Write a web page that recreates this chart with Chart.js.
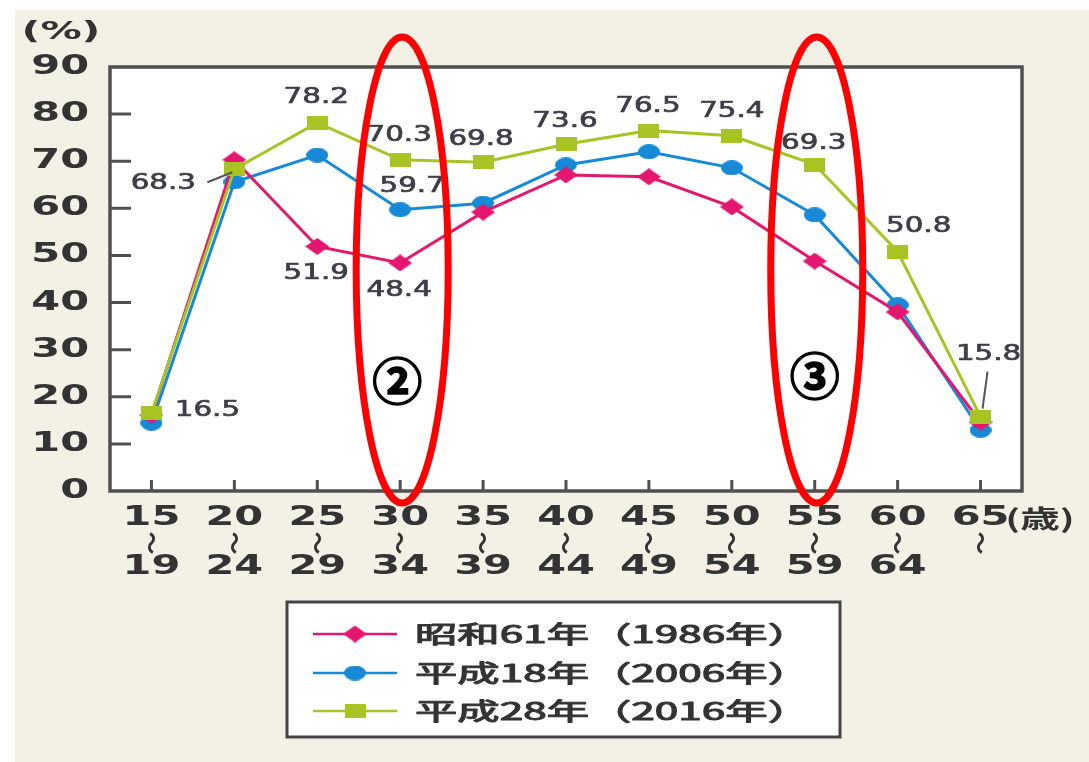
<!DOCTYPE html>
<html>
<head>
<meta charset="utf-8">
<script src="https://cdn.jsdelivr.net/npm/chart.js@4.4.1/dist/chart.umd.min.js"></script>
<style>
html, body { margin: 0; padding: 0; background: #fff; }
#wrap { width: 1089px; height: 762px; position: relative; }
</style>
</head>
<body>
<div id="wrap"><canvas id="chart"></canvas></div>
<script>
// 年齢階級 (上段 / 下段)
var ageFrom = ['15', '20', '25', '30', '35', '40', '45', '50', '55', '60', '65'];
var ageTo = ['19', '24', '29', '34', '39', '44', '49', '54', '59', '64', ''];
var categories = ageFrom.map(function (a, i) { return a + '～' + ageTo[i]; });

// 労働力率 (%)
var showa61 = [16.1, 70.3, 51.9, 48.4, 59.2, 67.1, 66.7, 60.3, 48.8, 38.0, 14.6];
var heisei18 = [14.4, 65.6, 71.3, 59.7, 61.1, 69.2, 72.0, 68.6, 58.6, 39.5, 12.9];
var heisei28 = [16.5, 68.3, 78.2, 70.3, 69.8, 73.6, 76.5, 75.4, 69.3, 50.8, 15.8];

var seriesNames = ['昭和61年（1986年）', '平成18年（2006年）', '平成28年（2016年）'];
var yTicks = [0, 10, 20, 30, 40, 50, 60, 70, 80, 90];

var PINK = '#e3176f', BLUE = '#168ad6', GREEN = '#a8c424';
var BEIGE = '#f3f0e5', INK = '#333333';

function marker(shape, color, w, h) {
  var c = document.createElement('canvas');
  c.width = w; c.height = h;
  var g = c.getContext('2d');
  g.fillStyle = color;
  g.beginPath();
  if (shape == 'diamond') {
    g.moveTo(w / 2, 0); g.lineTo(w, h / 2); g.lineTo(w / 2, h); g.lineTo(0, h / 2); g.closePath();
  } else if (shape == 'ellipse') {
    g.ellipse(w / 2, h / 2, w / 2, h / 2, 0, 0, Math.PI * 2);
  } else {
    g.rect(0, 0, w, h);
  }
  g.fill();
  return c;
}

var mPink = marker('diamond', PINK, 24, 17);
var mBlue = marker('ellipse', BLUE, 22, 15);
var mGreen = marker('rect', GREEN, 21, 14);

// which values get a number, and where it sits relative to the point
var labelSpots = [
  { ds: 2, i: 0, dx: 56, dy: -3 },
  { ds: 2, i: 1, dx: -71, dy: 14, lead: [-27, 13, -2, 3] },
  { ds: 2, i: 2, dx: -1, dy: -25 },
  { ds: 2, i: 3, dx: -1, dy: -24 },
  { ds: 2, i: 4, dx: -2, dy: -23 },
  { ds: 2, i: 5, dx: -1, dy: -23 },
  { ds: 2, i: 6, dx: -1, dy: -24 },
  { ds: 2, i: 7, dx: 0, dy: -24 },
  { ds: 2, i: 8, dx: -1, dy: -21 },
  { ds: 2, i: 9, dx: 21, dy: -25 },
  { ds: 2, i: 10, dx: 8, dy: -62, lead: [7, -45, 2, -8] },
  { ds: 1, i: 3, dx: 12, dy: -23 },
  { ds: 0, i: 2, dx: -1, dy: 27 },
  { ds: 0, i: 3, dx: -1, dy: 28 }
];

function inkWidth(ctx, font, s) {
  ctx.font = font;
  var m = ctx.measureText(s);
  return m.actualBoundingBoxLeft + m.actualBoundingBoxRight;
}

function wideText(ctx, s, x, y, font, sx, align, color, thick) {
  ctx.save();
  ctx.font = font;
  ctx.fillStyle = color || INK;
  ctx.textAlign = align || 'center';
  ctx.textBaseline = 'middle';
  ctx.translate(x, y);
  ctx.scale(sx, 1);
  ctx.fillText(s, 0, 0);
  if (thick) {
    ctx.strokeStyle = color || INK;
    ctx.lineWidth = thick;
    ctx.lineJoin = 'round';
    ctx.strokeText(s, 0, 0);
  }
  ctx.restore();
}

var TICK_FONT = 'bold 27px "DejaVu Sans"';
var DATA_FONT = '21px "DejaVu Sans"';
var LEG_FONT = '24px "Noto Sans CJK JP"';

var deco = {
  id: 'deco',
  beforeDraw: function (chart) {
    var c = chart.ctx, a = chart.chartArea;
    c.save();
    c.fillStyle = '#fff';
    c.fillRect(0, 0, chart.width, chart.height);
    c.fillStyle = BEIGE;
    c.fillRect(15, 10, chart.width - 15, chart.height - 10);
    c.fillStyle = '#fff';
    c.fillRect(a.left, a.top, a.right - a.left, a.bottom - a.top);
    c.restore();
  },
  beforeDatasetsDraw: function (chart) {
    var c = chart.ctx, a = chart.chartArea, xs = chart.scales.x, ys = chart.scales.y;
    c.save();
    c.strokeStyle = '#505050';
    c.lineWidth = 3;
    c.beginPath();
    yTicks.forEach(function (v) {
      if (v <= 0 || v >= 90) return;
      var y = ys.getPixelForValue(v);
      c.moveTo(a.left, y); c.lineTo(a.left + 21, y);
    });
    for (var i = 0; i < categories.length; i++) {
      var x = xs.getPixelForValue(i);
      c.moveTo(x, a.bottom); c.lineTo(x, a.bottom - 11);
    }
    c.stroke();
    c.lineWidth = 3.5;
    c.strokeRect(a.left, a.top, a.right - a.left, a.bottom - a.top);
    c.restore();
  },
  afterDraw: function (chart) {
    var c = chart.ctx, a = chart.chartArea, xs = chart.scales.x, ys = chart.scales.y;
    var sxTick = 55 / inkWidth(c, TICK_FONT, '90');
    var sxData = 62 / inkWidth(c, DATA_FONT, '68.3');

    // y axis numbers
    yTicks.forEach(function (v) {
      wideText(c, String(v), a.left - 21, ys.getPixelForValue(v), TICK_FONT, sxTick, 'right');
    });
    wideText(c, '(%)', 61, 33, 'bold 24px "DejaVu Sans"', 72 / inkWidth(c, 'bold 24px "DejaVu Sans"', '(%)'), 'center');

    // x axis age groups
    for (var i = 0; i < categories.length; i++) {
      var x = xs.getPixelForValue(i);
      wideText(c, ageFrom[i], x, a.bottom + 27, TICK_FONT, sxTick, 'center');
      c.save();
      c.translate(x, a.bottom + 52);
      c.rotate(Math.PI / 2);
      c.font = 'bold 23px "Noto Sans CJK JP"';
      c.fillStyle = INK;
      c.textAlign = 'center';
      c.textBaseline = 'middle';
      c.fillText('〜', 0, 0);
      c.restore();
      if (ageTo[i]) wideText(c, ageTo[i], x, a.bottom + 76, TICK_FONT, sxTick, 'center');
    }
    var unitFont = 'bold 25px "Noto Sans CJK JP"';
    wideText(c, '(歳)', 1040, a.bottom + 27, unitFont, 64 / inkWidth(c, unitFont, '(歳)'), 'center');

    // value labels
    labelSpots.forEach(function (s) {
      var pt = chart.getDatasetMeta(s.ds).data[s.i];
      var v = chart.data.datasets[s.ds].data[s.i];
      if (s.lead) {
        c.save();
        c.strokeStyle = '#555';
        c.lineWidth = 2;
        c.beginPath();
        c.moveTo(pt.x + s.lead[0], pt.y + s.lead[1]);
        c.lineTo(pt.x + s.lead[2], pt.y + s.lead[3]);
        c.stroke();
        c.restore();
      }
      wideText(c, v.toFixed(1), pt.x + s.dx, pt.y + s.dy, DATA_FONT, sxData, 'center', '#3e3e48', 0.7);
    });

    // legend box
    var lx = 287, ly = 602, lw = 553, lh = 135;
    c.save();
    c.fillStyle = '#fff';
    c.fillRect(lx, ly, lw, lh);
    c.strokeStyle = '#444';
    c.lineWidth = 3;
    c.strokeRect(lx, ly, lw, lh);
    c.restore();
    var sxLeg = 365 / inkWidth(c, LEG_FONT, seriesNames[0]);
    var rowY = [634, 673, 711];
    var legMarks = [mPink, mBlue, mGreen];
    chart.data.datasets.forEach(function (d, k) {
      var y = rowY[k];
      c.save();
      c.strokeStyle = d.borderColor;
      c.lineWidth = 2.5;
      c.beginPath();
      c.moveTo(313, y); c.lineTo(397, y);
      c.stroke();
      var m = legMarks[k];
      c.drawImage(m, 355 - m.width / 2, y - m.height / 2);
      c.restore();
      wideText(c, d.label, 415, y, LEG_FONT, sxLeg, 'left', INK, 1);
    });

    // annotation rings
    c.save();
    c.strokeStyle = '#ff0000';
    c.lineWidth = 7;
    [3, 8].forEach(function (i) {
      c.beginPath();
      c.ellipse(xs.getPixelForValue(i) + 2, 270, 46, 233, 0, 0, Math.PI * 2);
      c.stroke();
    });
    c.fillStyle = '#000';
    c.strokeStyle = '#000';
    c.lineWidth = 1.5;
    c.font = 'bold 50px "Noto Sans CJK JP"';
    c.textAlign = 'center';
    c.textBaseline = 'middle';
    c.fillText('②', xs.getPixelForValue(3) - 3, 381);
    c.strokeText('②', xs.getPixelForValue(3) - 3, 381);
    c.fillText('③', xs.getPixelForValue(8), 376);
    c.strokeText('③', xs.getPixelForValue(8), 376);
    c.restore();
  }
};

new Chart(document.getElementById('chart'), {
  type: 'line',
  data: {
    labels: categories,
    datasets: [
      { label: seriesNames[0], data: showa61, borderColor: PINK, backgroundColor: PINK,
        pointStyle: mPink, borderWidth: 3, order: 1 },
      { label: seriesNames[1], data: heisei18, borderColor: BLUE, backgroundColor: BLUE,
        pointStyle: mBlue, borderWidth: 3, order: 2 },
      { label: seriesNames[2], data: heisei28, borderColor: GREEN, backgroundColor: GREEN,
        pointStyle: mGreen, borderWidth: 3, order: 0 }
    ]
  },
  options: {
    responsive: true,
    maintainAspectRatio: false,
    animation: false,
    layout: { padding: { left: 110, right: 67, top: 67, bottom: 271 } },
    plugins: { legend: { display: false }, tooltip: { enabled: false } },
    scales: {
      x: {
        offset: true,
        grid: { display: false },
        border: { display: false },
        ticks: { display: false },
        afterFit: function (s) { s.height = 0; }
      },
      y: {
        min: 0, max: 90,
        grid: { display: false },
        border: { display: false },
        ticks: { display: false, stepSize: 10 },
        afterFit: function (s) { s.width = 0; }
      }
    }
  },
  plugins: [deco]
});
</script>
</body>
</html>
